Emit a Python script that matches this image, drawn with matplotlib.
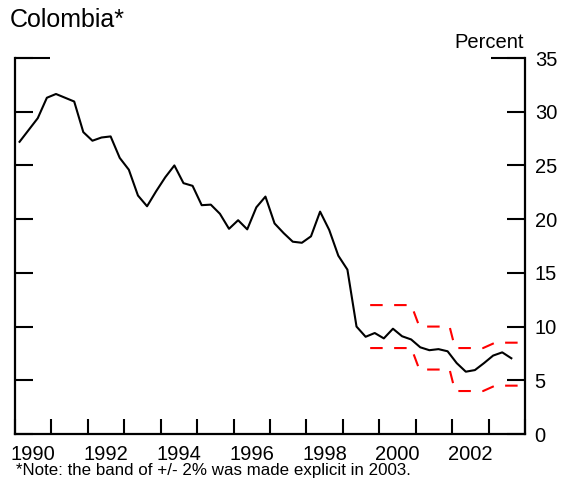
import numpy as np
import matplotlib
matplotlib.use("Agg")
import matplotlib.pyplot as plt

plt.rcParams['font.family'] = ['Liberation Sans', 'DejaVu Sans']

# quarterly inflation, 1990Q1 .. 2003Q3 (percent)
inflation = [27.2, 28.3, 29.4, 31.3, 31.65, 31.3, 30.95, 28.1,
             27.3, 27.6, 27.7, 25.7, 24.6, 22.2, 21.2, 22.6,
             23.9, 25.0, 23.35, 23.1, 21.3, 21.35, 20.5, 19.1,
             19.9, 19.05, 21.1, 22.1, 19.6, 18.7, 17.9, 17.8,
             18.4, 20.7, 19.0, 16.6, 15.3, 10.0, 9.05, 9.4,
             8.9, 9.8, 9.1, 8.8, 8.07, 7.8, 7.9, 7.7,
             6.6, 5.8, 5.95, 6.6, 7.3, 7.6, 7.05]
quarters = 1990 + (np.arange(len(inflation)) + 0.5) / 4

# target band
band_dates = [1999.75, 2000.88, 2001.1, 2001.93, 2002.08, 2002.85, 2003.18, 2004.0]
band_upper = [12, 12, 10, 10, 8, 8, 8.5, 8.5]
band_lower = [8, 8, 6, 6, 4, 4, 4.5, 4.5]

year_labels = ['1990', '1992', '1994', '1996', '1998', '2000', '2002']
y_ticks = [0, 5, 10, 15, 20, 25, 30, 35]

fig = plt.figure(figsize=(5.72, 4.84), dpi=100)
ax = fig.add_axes([15/572, 1-434/484, 510/572, 376/484])

ax.plot(quarters, inflation, color='black', lw=1.5)
dash = (0, (6.0, 5.5))
ax.plot(band_dates, band_upper, color='red', lw=1.5, linestyle=dash)
ax.plot(band_dates, band_lower, color='red', lw=1.5, linestyle=dash)

ax.set_xlim(1990, 2004)
ax.set_ylim(0, 35)

# x: year ticks, labels centred within even years
ax.set_xticks(np.arange(1990, 2005))
ax.set_xticklabels([])
ax.set_xticks([int(y) + 0.5 for y in year_labels], minor=True)
ax.set_xticklabels(year_labels, minor=True)
ax.tick_params(axis='x', which='major', direction='in', length=11, width=1.5)
ax.tick_params(axis='x', which='minor', length=0, pad=8, labelsize=14.5)

ax.set_yticks(y_ticks)
ax.set_yticklabels([str(v) for v in y_ticks])
ax.tick_params(axis='y', direction='in', length=13, width=1.5, left=True, right=True,
               labelleft=False, labelright=True, labelsize=14.5, pad=7)

for side in ['left', 'right', 'bottom']:
    ax.spines[side].set_linewidth(1.6)
ax.spines['top'].set_visible(False)

# short top segments at the corners
ax.plot([0, 35/510], [1, 1], transform=ax.transAxes, color='black', lw=1.5,
        clip_on=False, solid_capstyle='butt')
ax.plot([1-34/510, 1], [1, 1], transform=ax.transAxes, color='black', lw=1.5,
        clip_on=False, solid_capstyle='butt')

fig.text(10/572, 1-27/484, 'Colombia*', fontsize=18, va='baseline', ha='left')
fig.text(524/572, 1-48/484, 'Percent', fontsize=14.5, va='baseline', ha='right')
fig.text(16/572, 1-475/484, '*Note: the band of +/- 2% was made explicit in 2003.',
         fontsize=12.2, va='baseline', ha='left')

fig.savefig('out.png', dpi=100)
